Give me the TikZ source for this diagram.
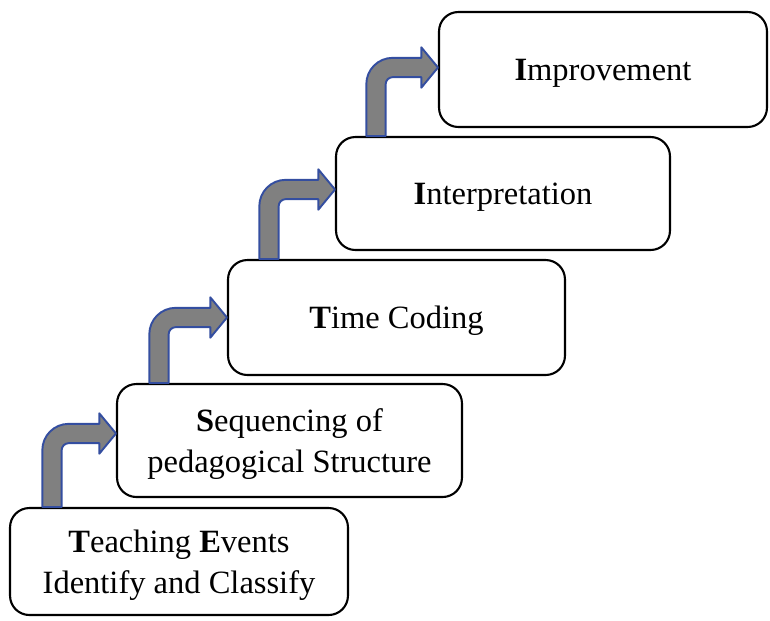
\documentclass[tikz,border=0pt]{standalone}
\usepackage{fontspec}
\setmainfont{Liberation Serif}
\usetikzlibrary{calc}
\definecolor{arrfill}{RGB}{128,128,128}
\definecolor{arrline}{RGB}{52,78,160}
\tikzset{
  stepbox/.style={draw=black, line width=1.2pt, rounded corners=11pt, fill=white,
    align=center, inner sep=2pt, text depth=0pt, font=\fontsize{18.5}{23.5}\selectfont},
  bentarrow/.style={fill=arrfill, draw=arrline, line width=1.1pt, line join=round}
}
\newcommand{\bentarr}[2]{%
  \path[bentarrow] let \p1=(#1), \p2=(#2) in
    ({\x1-5.5pt},{\y1}) -- ({\x1-5.5pt},{\y2+5.5pt-15pt})
    arc[start angle=180, end angle=90, radius=15pt]
    -- ({\x2-9.5pt},{\y2+5.5pt}) -- ({\x2-9.5pt},{\y2+11.5pt})
    -- ({\x2},{\y2}) -- ({\x2-9.5pt},{\y2-11.5pt})
    -- ({\x2-9.5pt},{\y2-5.5pt}) -- ({\x1+5.5pt+4pt},{\y2-5.5pt})
    arc[start angle=90, end angle=180, radius=4pt]
    -- ({\x1+5.5pt},{\y1}) -- cycle;%
}
\begin{document}
\begin{tikzpicture}[x=0.02cm, y=-0.02cm]
\useasboundingbox (0,0) rectangle (770,620);
\node[stepbox, minimum width=6.76cm, minimum height=2.14cm] (b1) at (179,561.5)
  {\textbf{T}eaching \textbf{E}vents\\Identify and Classify};
\node[stepbox, minimum width=6.90cm, minimum height=2.26cm] (b2) at (289.5,440.5)
  {\textbf{S}equencing of\\pedagogical Structure};
\node[stepbox, minimum width=6.74cm, minimum height=2.30cm] (b3) at (396.5,317.5)
  {\textbf{T}ime Coding};
\node[stepbox, minimum width=6.68cm, minimum height=2.26cm] (b4) at (503,193.5)
  {\textbf{I}nterpretation};
\node[stepbox, minimum width=6.56cm, minimum height=2.30cm] (b5) at (603,69.5)
  {\textbf{I}mprovement};
\coordinate (s1) at ($(b1.north west)+(43,0)$);
\coordinate (t1) at ($(b2.west)+(0,-7)$);
\coordinate (s2) at ($(b2.north west)+(43,0)$);
\coordinate (t2) at ($(b3.west)+(0,0)$);
\coordinate (s3) at ($(b3.north west)+(42,0)$);
\coordinate (t3) at ($(b4.west)+(0,-4)$);
\coordinate (s4) at ($(b4.north west)+(41,0)$);
\coordinate (t4) at ($(b5.west)+(0,-2)$);
\bentarr{s1}{t1}
\bentarr{s2}{t2}
\bentarr{s3}{t3}
\bentarr{s4}{t4}
\end{tikzpicture}
\end{document}
